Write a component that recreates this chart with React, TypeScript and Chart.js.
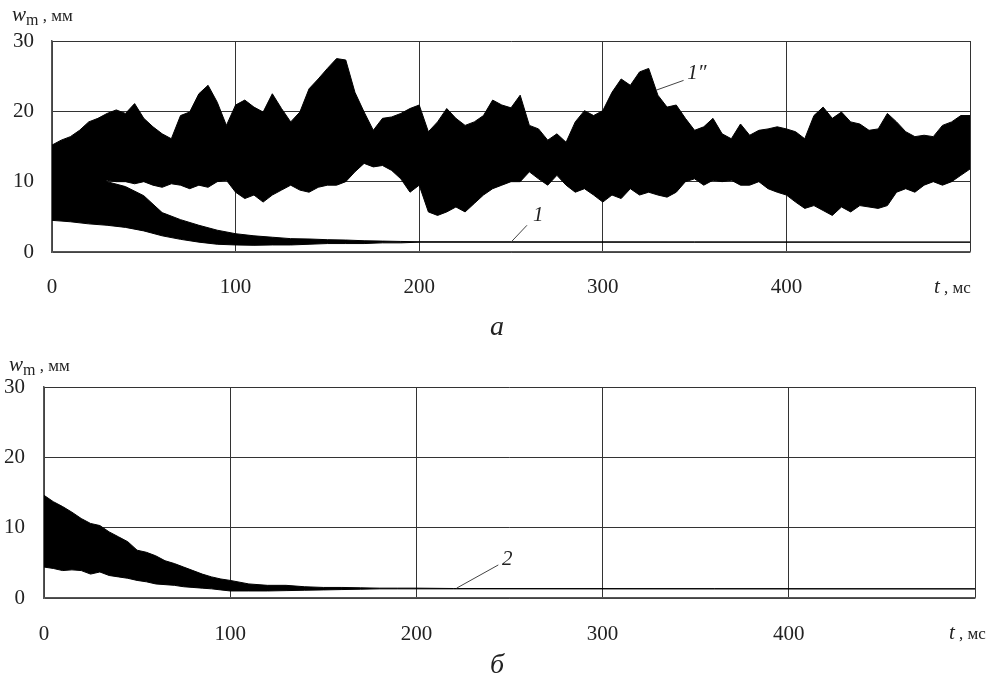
import React, { useEffect, useRef } from "react";
import { Chart, registerables } from "chart.js";

Chart.register(...registerables);

// ---------- data ----------
// time axis, ms
const T_A = [
  0, 5, 10, 15, 20, 25, 30, 35, 40, 45, 50, 55, 60, 65, 70, 75, 80, 85, 90, 95,
  100, 105, 110, 115, 120, 125, 130, 135, 140, 145, 150, 155, 160, 165, 170, 175, 180, 185, 190, 195,
  200, 205, 210, 215, 220, 225, 230, 235, 240, 245, 250, 255, 260, 265, 270, 275, 280, 285, 290, 295,
  300, 305, 310, 315, 320, 325, 330, 335, 340, 345, 350, 355, 360, 365, 370, 375, 380, 385, 390, 395,
  400, 405, 410, 415, 420, 425, 430, 435, 440, 445, 450, 455, 460, 465, 470, 475, 480, 485, 490, 495,
  500,
];
// curve 1'' : upper / lower envelope of the oscillation, mm
const UPPER_1PP = [
  15.2, 15.9, 16.4, 17.3, 18.5, 19.0, 19.7, 20.2, 19.7, 21.1, 19.0, 17.8, 16.8, 16.1, 19.4, 19.9, 22.5, 23.7, 21.3, 18.0,
  20.9, 21.6, 20.6, 19.9, 22.5, 20.4, 18.5, 19.9, 23.2, 24.6, 26.1, 27.5, 27.3, 22.7, 19.9, 17.3, 19.0, 19.2, 19.7, 20.4,
  20.9, 17.1, 18.5, 20.4, 19.0, 18.0, 18.5, 19.4, 21.6, 20.9, 20.5, 22.3, 18.0, 17.5, 15.9, 16.8, 15.6, 18.5, 20.1, 19.4,
  20.1, 22.7, 24.6, 23.7, 25.6, 26.1, 22.3, 20.6, 20.9, 19.0, 17.3, 17.8, 19.0, 16.8, 16.1, 18.2, 16.6, 17.3, 17.5, 17.8,
  17.5, 17.1, 16.1, 19.4, 20.6, 19.0, 19.9, 18.5, 18.2, 17.3, 17.5, 19.7, 18.5, 17.1, 16.4, 16.6, 16.4, 18.0, 18.5, 19.4,
  19.4,
];
const LOWER_1PP = [
  9.0, 9.0, 9.5, 9.5, 10.0, 10.0, 10.2, 10.0, 10.0, 9.7, 10.0, 9.5, 9.2, 9.7, 9.5, 9.0, 9.5, 9.2, 10.0, 10.2,
  8.5, 7.6, 8.1, 7.1, 8.1, 8.8, 9.5, 8.8, 8.5, 9.2, 9.5, 9.5, 10.0, 11.4, 12.6, 12.1, 12.3, 11.6, 10.4, 8.5,
  9.5, 5.7, 5.2, 5.7, 6.4, 5.7, 6.9, 8.1, 9.0, 9.5, 10.0, 10.0, 11.4, 10.4, 9.5, 10.9, 9.5, 8.5, 9.0, 8.1,
  7.1, 8.1, 7.6, 9.0, 8.1, 8.5, 8.1, 7.8, 8.5, 10.0, 10.4, 9.5, 10.2, 10.0, 10.2, 9.5, 9.5, 10.0, 9.0, 8.5,
  8.1, 7.1, 6.2, 6.6, 5.9, 5.2, 6.4, 5.7, 6.6, 6.4, 6.2, 6.6, 8.5, 9.0, 8.5, 9.5, 10.0, 9.5, 10.0, 10.9,
  11.8,
];

// curve 1 (panel a) : decaying oscillation envelope
const T_1 = [0, 10, 20, 30, 40, 50, 60, 70, 80, 90, 100, 110, 120, 130, 140, 150, 160, 170, 180, 190, 200, 500];
const UPPER_1 = [15.0, 14.0, 12.0, 10.0, 9.3, 8.0, 5.6, 4.6, 3.8, 3.1, 2.6, 2.3, 2.1, 1.9, 1.85, 1.75, 1.7, 1.6, 1.55, 1.5, 1.45, 1.4];
const LOWER_1 = [4.5, 4.3, 4.0, 3.8, 3.5, 3.0, 2.3, 1.8, 1.4, 1.1, 1.0, 0.95, 1.0, 1.0, 1.1, 1.2, 1.2, 1.2, 1.3, 1.3, 1.4, 1.4];

// curve 2 (panel б)
const T_2 = [
  0, 5, 10, 15, 20, 25, 30, 35, 40, 45, 50, 55, 60, 65, 70, 75, 80, 85, 90, 95,
  100, 110, 120, 130, 140, 150, 160, 170, 180, 190, 200, 220, 500,
];
const UPPER_2 = [
  14.6, 13.7, 13.0, 12.2, 11.3, 10.6, 10.3, 9.4, 8.7, 8.0, 6.8, 6.5, 6.0, 5.3, 4.9, 4.4, 3.9, 3.4, 3.0, 2.7,
  2.5, 2.0, 1.8, 1.8, 1.6, 1.5, 1.5, 1.45, 1.4, 1.4, 1.4, 1.35, 1.3,
];
const LOWER_2 = [
  4.4, 4.2, 3.9, 4.0, 3.9, 3.4, 3.7, 3.2, 3.0, 2.8, 2.5, 2.3, 2.0, 1.9, 1.8, 1.6, 1.5, 1.4, 1.3, 1.15,
  1.0, 1.0, 1.0, 1.05, 1.1, 1.15, 1.2, 1.25, 1.3, 1.3, 1.3, 1.3, 1.3,
];

const X_MIN = 0;
const X_MAX = 500;
const X_STEP = 100;
const Y_MIN = 0;
const Y_MAX = 30;
const Y_STEP = 10;

// annotations: label, leader start (t, v), leader end (t, v), label anchor (t, v)
type Note = { text: string; t0: number; v0: number; t1: number; v1: number; tl: number; vl: number };
const NOTES_A: Note[] = [
  { text: "1\u2033", t0: 329, v0: 23.0, t1: 344, v1: 24.4, tl: 346, vl: 25.4 },
  { text: "1", t0: 250, v0: 1.4, t1: 258.7, v1: 3.8, tl: 262, vl: 5.2 },
];
const NOTES_B: Note[] = [{ text: "2", t0: 221.6, v0: 1.4, t1: 244, v1: 4.7, tl: 246, vl: 5.5 }];

const SERIF = "'Liberation Serif', 'Times New Roman', serif";

function zip(t: number[], v: number[]) {
  return t.map((x, i) => ({ x, y: v[i] }));
}

function band(t: number[], up: number[], lo: number[]) {
  return [
    {
      data: zip(t, up),
      borderColor: "#000",
      backgroundColor: "#000",
      borderWidth: 1,
      pointRadius: 0,
      tension: 0,
      fill: "+1",
    },
    {
      data: zip(t, lo),
      borderColor: "#000",
      backgroundColor: "#000",
      borderWidth: 1,
      pointRadius: 0,
      tension: 0,
      fill: false,
    },
  ];
}

function makeConfig(
  datasets: any[],
  notes: Note[],
  geom: { padTop: number; padRight: number; yWidth: number; xHeight: number; yPad: number; xPad: number }
): any {
  const notePlugin = {
    id: "notes",
    afterDatasetsDraw(chart: any) {
      const { ctx } = chart;
      const xs = chart.scales.x;
      const ys = chart.scales.y;
      ctx.save();
      for (const n of notes) {
        ctx.strokeStyle = "#444";
        ctx.lineWidth = 1;
        ctx.beginPath();
        ctx.moveTo(xs.getPixelForValue(n.t0), ys.getPixelForValue(n.v0));
        ctx.lineTo(xs.getPixelForValue(n.t1), ys.getPixelForValue(n.v1));
        ctx.stroke();
        ctx.fillStyle = "#222";
        ctx.font = `italic 21px ${SERIF}`;
        ctx.textAlign = "left";
        ctx.textBaseline = "middle";
        ctx.fillText(n.text, xs.getPixelForValue(n.tl), ys.getPixelForValue(n.vl));
      }
      ctx.restore();
    },
  };
  return {
    type: "line",
    data: { datasets },
    plugins: [notePlugin],
    options: {
      animation: false,
      responsive: false,
      events: [],
      layout: { padding: { left: 0, top: geom.padTop, right: geom.padRight, bottom: 0 } },
      plugins: { legend: { display: false }, tooltip: { enabled: false } },
      scales: {
        x: {
          type: "linear",
          min: X_MIN,
          max: X_MAX,
          afterFit: (s: any) => {
            s.height = geom.xHeight;
          },
          ticks: {
            stepSize: X_STEP,
            autoSkip: false,
            maxRotation: 0,
            padding: geom.xPad,
            color: "#222",
            font: { family: SERIF, size: 21 },
            callback: (v: any) => (v === X_MAX ? "" : String(v)),
          },
          grid: { color: "#333", lineWidth: 1, drawTicks: false },
          border: { display: true, color: "#555", width: 1.5 },
        },
        y: {
          type: "linear",
          min: Y_MIN,
          max: Y_MAX,
          afterFit: (s: any) => {
            s.width = geom.yWidth;
          },
          ticks: {
            stepSize: Y_STEP,
            padding: geom.yPad,
            color: "#222",
            font: { family: SERIF, size: 21 },
          },
          grid: { color: "#333", lineWidth: 1, drawTicks: false },
          border: { display: true, color: "#555", width: 1.5 },
        },
      },
    },
  };
}

function Panel(props: { top: number; cfg: any }) {
  const ref = useRef<HTMLCanvasElement | null>(null);
  useEffect(() => {
    const chart = new Chart(ref.current as HTMLCanvasElement, props.cfg);
    return () => chart.destroy();
  }, []);
  return (
    <canvas
      ref={ref}
      width={999}
      height={343}
      style={{ position: "absolute", left: 0, top: props.top, width: 999, height: 343, display: "block" }}
    />
  );
}

function Txt(props: { left: number; top: number; children: any; size?: number; italic?: boolean }) {
  return (
    <div
      style={{
        position: "absolute",
        left: props.left,
        top: props.top,
        fontFamily: SERIF,
        fontSize: props.size ?? 18,
        fontStyle: props.italic ? "italic" : "normal",
        lineHeight: 1,
        color: "#222",
        whiteSpace: "nowrap",
      }}
    >
      {props.children}
    </div>
  );
}

function AxisTitleY(props: { left: number; top: number }) {
  return (
    <Txt left={props.left} top={props.top}>
      <span style={{ fontStyle: "italic", fontSize: 21 }}>w</span>
      <span style={{ fontSize: 16, position: "relative", top: 4 }}>m</span>
      <span style={{ fontSize: 17 }}> , мм</span>
    </Txt>
  );
}

function AxisTitleX(props: { left: number; top: number }) {
  return (
    <Txt left={props.left} top={props.top}>
      <span style={{ fontStyle: "italic", fontSize: 21 }}>t</span>
      <span style={{ fontSize: 17 }}> , мс</span>
    </Txt>
  );
}

export default function App() {
  const cfgA = makeConfig(
    [...band(T_1, UPPER_1, LOWER_1), ...band(T_A, UPPER_1PP, LOWER_1PP)],
    NOTES_A,
    { padTop: 41, padRight: 29, yWidth: 52, xHeight: 91, yPad: 18, xPad: 23 }
  );
  const cfgB = makeConfig(band(T_2, UPPER_2, LOWER_2), NOTES_B, {
    padTop: 44,
    padRight: 21,
    yWidth: 44,
    xHeight: 88,
    yPad: 19,
    xPad: 24,
  });
  return (
    <div style={{ position: "absolute", left: 0, top: 0, width: 999, height: 686, background: "#fff", overflow: "hidden" }}>
      <Panel top={0} cfg={cfgA} />
      <Panel top={343} cfg={cfgB} />
      <AxisTitleY left={12} top={4} />
      <AxisTitleY left={9} top={354} />
      <AxisTitleX left={934} top={276} />
      <AxisTitleX left={949} top={622} />
      <Txt left={490} top={312} size={28} italic>
        а
      </Txt>
      <Txt left={490} top={650} size={28} italic>
        б
      </Txt>
    </div>
  );
}
